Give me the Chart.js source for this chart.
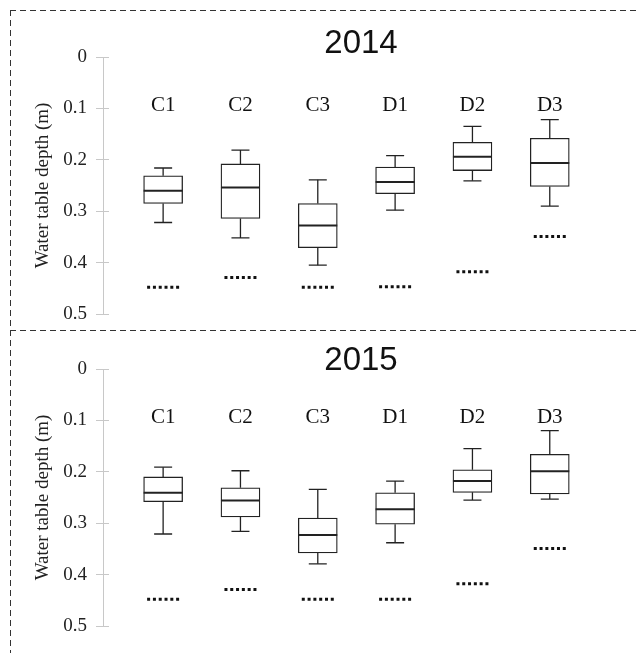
<!DOCTYPE html>
<html>
<head>
<meta charset="utf-8">
<title>Water table depth 2014 / 2015</title>
<script src="https://cdn.jsdelivr.net/npm/chart.js@4.4.1/dist/chart.umd.min.js"></script>
<style>
  body { margin: 0; background: #fff; }
  #wrap { position: relative; width: 637px; height: 653px; overflow: hidden; }
  canvas { position: absolute; left: 0; }
  #c2014 { top: 0; }
  #c2015 { top: 330px; }
  .dash-h { position: absolute; height: 1.4px;
    background: repeating-linear-gradient(to right, #333 0 6px, transparent 6px 10px); }
  .dash-v { position: absolute; width: 1.4px;
    background: repeating-linear-gradient(to bottom, #333 0 6px, transparent 6px 10px); }
</style>
</head>
<body>
<div id="wrap">
  <canvas id="c2014" width="637" height="340"></canvas>
  <canvas id="c2015" width="637" height="323"></canvas>
  <div class="dash-h" style="left:10px; top:10px; width:627px;"></div>
  <div class="dash-h" style="left:10px; top:330px; width:627px;"></div>
  <div class="dash-v" style="left:10px; top:10px; height:643px;"></div>
</div>
<script>
const sites = ['C1', 'C2', 'C3', 'D1', 'D2', 'D3'];
const depthTicks = [0, 0.1, 0.2, 0.3, 0.4, 0.5];

// 2014 (m below surface)
const top2014 = [0.216, 0.181, 0.239, 0.192, 0.135, 0.122];
const q1_2014 = [0.231, 0.208, 0.285, 0.214, 0.166, 0.158];
const med2014 = [0.260, 0.254, 0.328, 0.243, 0.194, 0.206];
const q3_2014 = [0.285, 0.314, 0.371, 0.266, 0.221, 0.252];
const bot2014 = [0.322, 0.352, 0.405, 0.298, 0.241, 0.290];
const ref2014 = [0.448, 0.429, 0.448, 0.447, 0.418, 0.349];

// 2015
const top2015 = [0.191, 0.198, 0.234, 0.218, 0.155, 0.120];
const q1_2015 = [0.210, 0.231, 0.290, 0.241, 0.196, 0.166];
const med2015 = [0.241, 0.256, 0.323, 0.273, 0.218, 0.199];
const q3_2015 = [0.258, 0.288, 0.358, 0.302, 0.240, 0.243];
const bot2015 = [0.321, 0.316, 0.379, 0.338, 0.255, 0.253];
const ref2015 = [0.448, 0.429, 0.448, 0.448, 0.418, 0.349];

const ink = '#222';
const axisGrey = '#c8c8c8';

// axis line through the middle of the ticks, site names and year
const panelText = {
    id: 'panelText',
    afterDatasetsDraw(chart, args, opts) {
        const { ctx, chartArea } = chart;
        const x = chart.scales.x, y = chart.scales.y;
        ctx.save();
        ctx.strokeStyle = axisGrey;
        ctx.lineWidth = 1;
        const ax = Math.round(chartArea.left - 6.5) + 0.5;
        ctx.beginPath();
        ctx.moveTo(ax, y.getPixelForValue(depthTicks[0]));
        ctx.lineTo(ax, y.getPixelForValue(depthTicks[depthTicks.length - 1]));
        ctx.stroke();

        ctx.fillStyle = '#111';
        ctx.textAlign = 'center';
        ctx.textBaseline = 'alphabetic';
        ctx.font = '21px "Liberation Serif"';
        sites.forEach((s, i) => ctx.fillText(s, x.getPixelForValue(i + 1), y.getPixelForValue(0.105)));
        ctx.font = '33px "Liberation Sans"';
        ctx.fillText(opts.year, opts.yearX, opts.yearY);
        ctx.restore();
    }
};

function segments(from, to) {
    let pts = [];
    from.forEach((v, i) => {
        pts.push({ x: i + 1, y: v }, { x: i + 1, y: to[i] }, { x: i + 1, y: null });
    });
    return pts;
}

function createPanel(id, year, yearY, pad, whTop, q1, med, q3, whBot, ref) {
    let caps = [];
    whTop.forEach((v, i) => caps.push({ x: i + 1, y: v }, { x: i + 1, y: whBot[i] }));
    let refLines = [];
    ref.forEach((v, i) => refLines.push({ x: i + 0.793, y: v }, { x: i + 1.207, y: v }, { x: i + 1, y: null }));

    // first dataset ends up on top
    return new Chart(document.getElementById(id), {
        type: 'bar',
        data: {
            datasets: [
                {
                    type: 'scatter',
                    data: med.map((v, i) => ({ x: i + 1, y: v })),
                    pointStyle: 'line', pointRadius: 19.5, pointBorderColor: ink, pointBorderWidth: 2
                },
                {
                    type: 'scatter', data: caps,
                    pointStyle: 'line', pointRadius: 9, pointBorderColor: ink, pointBorderWidth: 1.3
                },
                {
                    type: 'line', data: refLines,
                    borderColor: '#111', borderWidth: 3, borderDash: [3, 2.8], borderCapStyle: 'butt',
                    pointRadius: 0, spanGaps: false
                },
                {
                    type: 'line', data: segments(whTop, q1),
                    borderColor: ink, borderWidth: 1.3, pointRadius: 0, spanGaps: false
                },
                {
                    type: 'line', data: segments(q3, whBot),
                    borderColor: ink, borderWidth: 1.3, pointRadius: 0, spanGaps: false
                },
                {
                    type: 'bar',
                    data: q1.map((v, i) => ({ x: i + 1, y: [v, q3[i]] })),
                    backgroundColor: '#fff', borderColor: ink, borderWidth: 1.3,
                    borderSkipped: false, barThickness: 39
                }
            ]
        },
        options: {
            responsive: false,
            animation: false,
            events: [],
            layout: { padding: pad },
            plugins: {
                legend: { display: false },
                tooltip: { enabled: false },
                panelText: { year: year, yearX: 361, yearY: yearY }
            },
            scales: {
                x: {
                    type: 'linear', min: 0.3, max: 6.85, offset: false, display: false
                },
                y: {
                    type: 'linear', min: 0, max: 0.5, reverse: true,
                    afterBuildTicks: s => { s.ticks = depthTicks.map(v => ({ value: v })); },
                    afterFit: s => { s.width = 109; },
                    border: { display: false },
                    grid: { drawOnChartArea: false, drawTicks: true, tickLength: 13, color: axisGrey, lineWidth: 1 },
                    ticks: {
                        padding: 9, color: ink,
                        font: { family: '"Liberation Serif"', size: 19 },
                        callback: v => String(+v.toFixed(1))
                    },
                    title: {
                        display: true, text: 'Water table depth (m)', color: ink,
                        font: { family: '"Liberation Serif"', size: 19 },
                        padding: { top: 32, bottom: 0 }
                    }
                }
            }
        },
        plugins: [panelText]
    });
}

createPanel('c2014', '2014', 52.7, { top: 57, bottom: 26, left: 0, right: 10 },
    top2014, q1_2014, med2014, q3_2014, bot2014, ref2014);
createPanel('c2015', '2015', 40, { top: 39, bottom: 27, left: 0, right: 10 },
    top2015, q1_2015, med2015, q3_2015, bot2015, ref2015);
</script>
</body>
</html>
